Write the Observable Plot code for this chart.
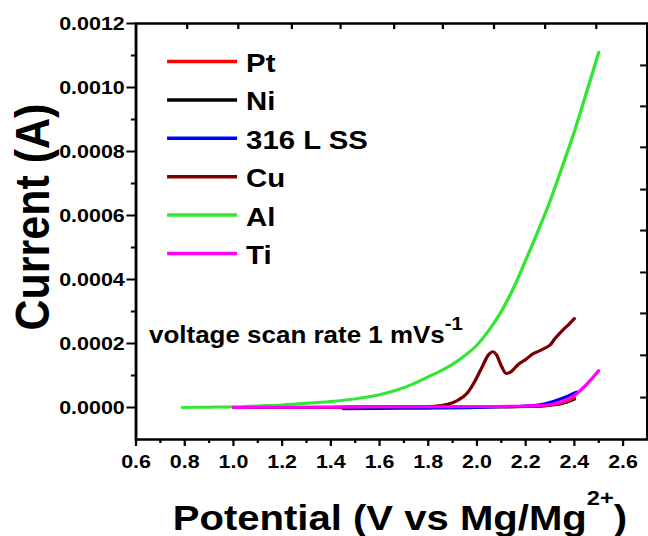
<!DOCTYPE html>
<html><head><meta charset="utf-8">
<script src="https://cdn.jsdelivr.net/npm/d3@7"></script>
<script src="https://cdn.jsdelivr.net/npm/@observablehq/plot@0.6"></script>
<style>html,body{margin:0;padding:0;background:#fff;overflow:hidden}</style>
</head><body><div id="chart"></div>
<script>
const seriesNames = ["Pt", "Ni", "316 L SS", "Cu", "Al", "Ti"];
const seriesColors = ["#ff0000", "#000000", "#0000ff", "#7a0000", "#33e633", "#ff00ff"];
const drawOrder = [1, 0, 2, 3, 4, 5];

const ptX = [1.0, 1.2, 1.4, 1.6, 1.8, 2.0, 2.2, 2.26, 2.3, 2.34, 2.37, 2.4];
const ptY = [0, 0, 0, 0.000001, 0.000001, 0.000002, 0.000003, 0.000005, 0.000008, 0.000013, 0.00002, 0.00003];

const niX = [1.0, 1.2, 1.4, 1.6, 1.8, 2.0, 2.2, 2.26, 2.3, 2.34, 2.37, 2.4];
const niY = [0, 0, 0, 0.000001, 0.000001, 0.000002, 0.000003, 0.000004, 0.000007, 0.000011, 0.000017, 0.000026];

const ssX = [1.45, 1.6, 1.8, 2.0, 2.1, 2.2, 2.25, 2.28, 2.31, 2.34, 2.37, 2.39, 2.41];
const ssY = [-0.000004, -0.000003, -0.000002, 0, 0.000002, 0.000005, 0.000008, 0.000012, 0.000018, 0.000026, 0.000035, 0.000042, 0.000048];

const cuX = [1.0, 1.4, 1.8, 1.85, 1.88, 1.92, 1.96, 1.99, 2.02, 2.045, 2.065, 2.08, 2.1, 2.12, 2.14, 2.17, 2.2, 2.23, 2.26, 2.28, 2.3, 2.32, 2.35, 2.38, 2.4];
const cuY = [0, 0.000001, 0.000003, 0.000006, 0.00001, 0.000022, 0.000045, 0.00008, 0.000125, 0.000162, 0.000174, 0.000165, 0.00013, 0.000106, 0.000112, 0.000135, 0.00015, 0.000168, 0.000178, 0.000186, 0.000195, 0.000215, 0.00024, 0.000262, 0.000278];

const alX = [0.79, 0.9, 1.0, 1.1, 1.2, 1.3, 1.4, 1.5, 1.6, 1.65, 1.7, 1.75, 1.8, 1.85, 1.9, 1.95, 2.0, 2.05, 2.1, 2.15, 2.2, 2.25, 2.3, 2.35, 2.4, 2.45, 2.5];
const alY = [0, 0.000001, 0.000002, 0.000005, 0.000008, 0.000013, 0.000019, 0.000027, 0.00004, 0.00005, 0.000062, 0.000078, 0.000096, 0.000114, 0.000135, 0.000162, 0.000195, 0.000242, 0.0003, 0.000373, 0.00046, 0.00055, 0.000645, 0.000752, 0.000862, 0.000985, 0.00111];

const tiX = [1.0, 1.2, 1.4, 1.6, 1.8, 2.0, 2.2, 2.25, 2.3, 2.35, 2.4, 2.45, 2.5];
const tiY = [0, 0.000001, 0.000001, 0.000002, 0.000002, 0.000003, 0.000005, 0.000006, 0.000009, 0.000018, 0.000038, 0.000072, 0.000115];

const xTicks = [0.6, 0.8, 1.0, 1.2, 1.4, 1.6, 1.8, 2.0, 2.2, 2.4, 2.6];
const xMinorTicks = [0.7, 0.9, 1.1, 1.3, 1.5, 1.7, 1.9, 2.1, 2.3, 2.5];
const yTicks = [0, 0.0002, 0.0004, 0.0006, 0.0008, 0.0010, 0.0012];
const yMinorTicks = [0.0001, 0.0003, 0.0005, 0.0007, 0.0009, 0.0011];
const topTicks = [0.81, 1.02, 1.24, 1.44, 1.66, 1.86, 2.07, 2.28, 2.49];
const rightTicks = [0.001069, 0.000941, 0.000813, 0.000681, 0.000553, 0.000422, 0.000294, 0.000163, 0.000031];

const seriesX = [ptX, niX, ssX, cuX, alX, tiX];
const seriesY = [ptY, niY, ssY, cuY, alY, tiY];

const W = 574, H = 536, mL = 120, mR = 1, mT = 23, mB = 97;
const plotW = W - mL - mR, plotH = H - mT - mB;

const rows = (xs, ys) => xs.map((x, i) => ({x, y: ys[i]}));

const plot = Plot.plot({
  width: W, height: H,
  marginLeft: mL, marginRight: mR, marginTop: mT, marginBottom: mB,
  style: {background: "white", color: "black", fontFamily: "'Liberation Sans', Arial, sans-serif", fontWeight: "bold", fontSize: "19px", overflow: "visible"},
  x: {domain: [0.6, 2.7], label: null},
  y: {domain: [-0.0001, 0.0012], label: null},
  marks: [
    ...drawOrder.map(i => Plot.line(rows(seriesX[i], seriesY[i]), {x: "x", y: "y", stroke: seriesColors[i], strokeWidth: 3, curve: "monotone-x"})),
    Plot.frame({stroke: "black", strokeWidth: 2.5}),
    Plot.axisX({ticks: xTicks, tickSize: 7, tickPadding: 8, tickFormat: d => d.toFixed(1), fontSize: 19, strokeWidth: 2, label: null}),
    Plot.axisX({ticks: xMinorTicks, tickSize: 4, tickFormat: () => "", strokeWidth: 2, label: null}),
    Plot.axisY({ticks: yTicks, tickSize: 8, tickPadding: 2, tickFormat: d => d.toFixed(4), fontSize: 19, strokeWidth: 2, label: null}),
    Plot.axisY({ticks: yMinorTicks, tickSize: 4, tickFormat: () => "", strokeWidth: 2, label: null}),
    Plot.tickX(topTicks, {x: d => d, insetBottom: plotH - 6, strokeWidth: 2}),
    Plot.tickY(rightTicks, {y: d => d, insetLeft: plotW - 6, strokeWidth: 2})
  ]
});

const svg = d3.select(plot);
const lg = svg.append("g").attr("text-anchor", "start");
seriesNames.forEach((name, i) => {
  const yy = 61.5 + i * 38.4;
  lg.append("line").attr("x1", 148).attr("x2", 210).attr("y1", yy).attr("y2", yy)
    .attr("stroke", seriesColors[i]).attr("stroke-width", 3.5);
  lg.append("text").attr("x", 218).attr("y", yy + 10.5).attr("font-size", 26).attr("fill", "black").text(name);
});

const ann = svg.append("text").attr("text-anchor", "start").attr("x", 132).attr("y", 343).attr("font-size", 23).attr("fill", "black");
ann.append("tspan").text("voltage scan rate 1 mVs");
ann.append("tspan").attr("dy", -13).attr("font-size", 18).text("-1");

const xt = svg.append("text").attr("text-anchor", "start").attr("x", 153).attr("y", 530).attr("font-size", 35.5).attr("fill", "black");
xt.append("tspan").text("Potential (V vs Mg/Mg");
xt.append("tspan").attr("dy", -25).attr("font-size", 21).text("2+");
xt.append("tspan").attr("dy", 25).text(")");

svg.append("text").attr("transform", "translate(43,217) rotate(-90)").attr("text-anchor", "middle")
  .attr("font-size", 43).attr("fill", "black").text("Current (A)");

plot.style.transform = `scaleX(${648 / W})`;
plot.style.transformOrigin = "0 0";
plot.style.maxWidth = "none";
document.getElementById("chart").appendChild(plot);
</script>
</body></html>
